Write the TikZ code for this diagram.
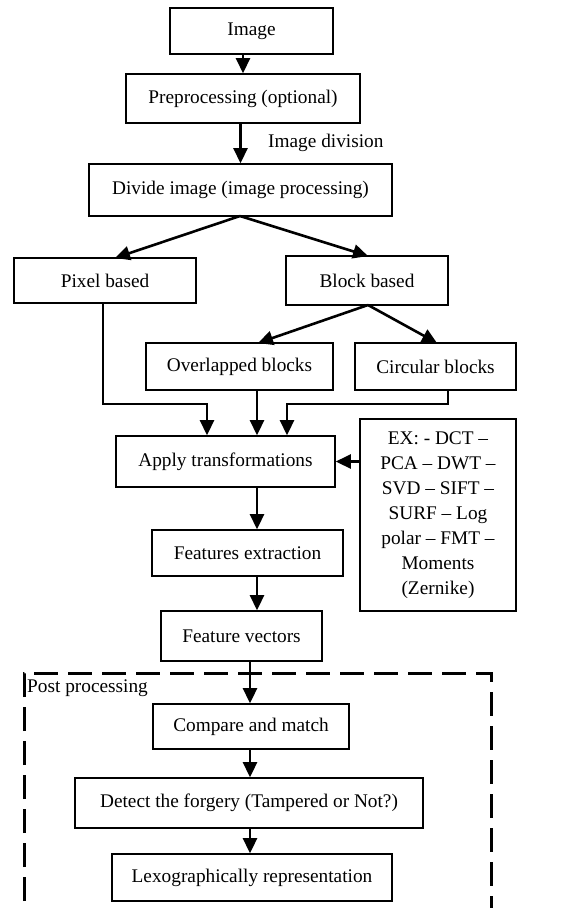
\documentclass[tikz,border=0pt]{standalone}
\usepackage{fontspec}
\setmainfont{Liberation Serif}
\usetikzlibrary{arrows.meta}
\begin{document}
\begin{tikzpicture}[x=1bp,y=-1bp,
  font=\fontsize{19.3bp}{25bp}\selectfont,
  box/.style={draw,line width=1.6bp,inner sep=0pt,align=center},
  arr/.style={line width=2.6bp,-{Triangle[length=15bp,width=14bp]}},
  link/.style={line width=1.7bp}]
\useasboundingbox (0,0) rectangle (576,908);
\clip (0,0) rectangle (576,908);

% boxes of the main flow
\node[box,minimum width=163bp,minimum height=46bp] (img) at (251.5,31) {Image};
\node[box,minimum width=234bp,minimum height=49bp] (pre) at (243,98.5) {Preprocessing (optional)};
\node[box,minimum width=303bp,minimum height=52bp] (div) at (240.5,190) {Divide image (image processing)};
\node[box,minimum width=182bp,minimum height=45bp] (pix) at (105,280.5) {Pixel based};
\node[box,minimum width=162bp,minimum height=49bp] (blk) at (367,280.5) {Block based};
\node[box,minimum width=187bp,minimum height=47bp] (ovl) at (239.5,366.5) {Overlapped blocks};
\node[box,minimum width=161bp,minimum height=47bp] (cir) at (435.5,366.5) {Circular blocks};
\node[box,minimum width=219bp,minimum height=51bp] (app) at (225.5,461.5) {Apply transformations};
\node[box,minimum width=156bp,minimum height=192bp] (ex) at (438,515)
  {EX: - DCT --\\PCA -- DWT --\\SVD -- SIFT --\\SURF -- Log\\polar -- FMT --\\Moments\\(Zernike)};
\node[box,minimum width=191bp,minimum height=46bp] (fex) at (247.5,553) {Features extraction};
\node[box,minimum width=161bp,minimum height=50bp] (fv) at (241.5,636) {Feature vectors};

% post processing stage
\node[box,minimum width=196bp,minimum height=45bp] (cmp) at (251,726.5) {Compare and match};
\node[box,minimum width=348bp,minimum height=50bp] (det) at (249,803) {Detect the forgery (Tampered or Not?)};
\node[box,minimum width=280bp,minimum height=47bp] (lex) at (252,877.5) {Lexographically representation};
\draw[line width=3bp,dash pattern=on 24bp off 10bp] (24,935) -- (24,673) -- (491,673) -- (491,935);
\node[anchor=west,inner sep=0pt] (post) at (27,688) {Post processing};

% connectors
\draw[arr] (img.south -| pre.north) -- (pre.north);
\draw[arr] (pre.south -| div.north) -- (div.north);
\node[anchor=west,inner sep=0pt] (divlbl) at (268,143) {Image division};
\coordinate (divout) at (240,216);
\draw[arr] (divout) -- (115,258);
\draw[arr] (divout) -- (368,256);
\coordinate (blkout) at (368,305);
\draw[arr] (blkout) -- (258,343);
\draw[arr] (blkout) -- (437,343);

\coordinate (pixdown) at (103,404);
\draw[link] (pix.south -| pixdown) -- (pixdown) -- (207,404);
\draw[arr] (207,403.2) -- (app.north -| 207,0);
\draw[arr] (ovl.south -| 257,0) -- (app.north -| 257,0);
\coordinate (cirdown) at (448,404);
\draw[link] (cir.south -| cirdown) -- (cirdown) -- (287,404);
\draw[arr] (287,403.2) -- (app.north -| 287,0);
\draw[arr] (ex.west |- app.east) -- (app.east);

\draw[arr] (app.south -| 257,0) -- (fex.north -| 257,0);
\draw[arr] (fex.south -| 257,0) -- (fv.north -| 257,0);
\draw[arr] (fv.south -| 250,0) -- (cmp.north -| 250,0);
\draw[arr] (cmp.south -| 250,0) -- (det.north -| 250,0);
\draw[arr] (det.south -| 250,0) -- (lex.north -| 250,0);
\end{tikzpicture}
\end{document}
